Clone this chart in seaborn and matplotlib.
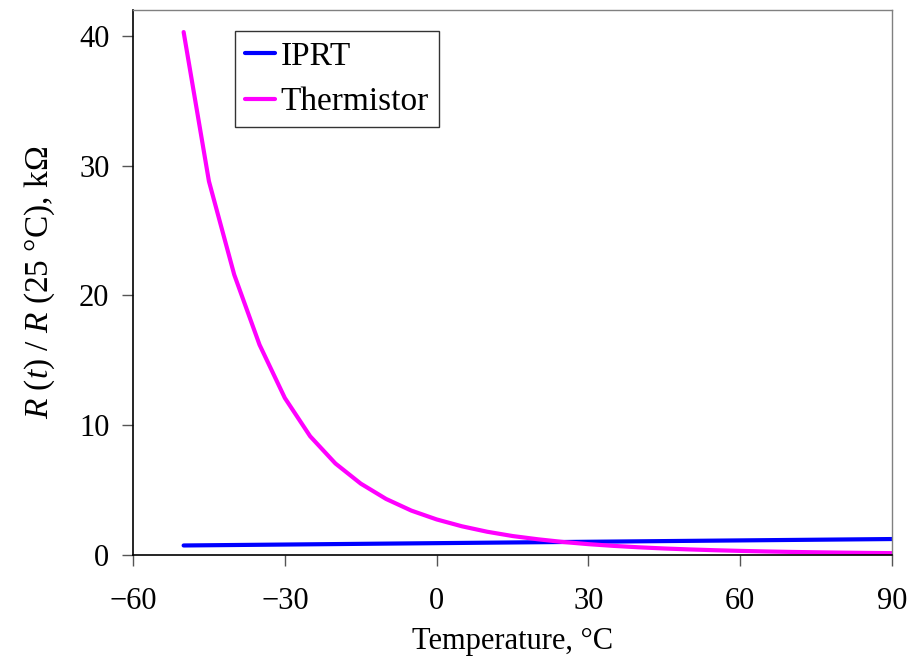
import matplotlib
matplotlib.use("Agg")
import matplotlib.pyplot as plt
import seaborn as sns
import pandas as pd

# IPRT (Pt100) resistance ratio, 10 degree steps
iprt_temp = [-50, -40, -30, -20, -10, 0, 10, 20, 30, 40, 50, 60, 70, 80, 90]
iprt_ratio = [0.732, 0.768, 0.804, 0.840, 0.876, 0.911, 0.947, 0.982,
              1.018, 1.053, 1.088, 1.123, 1.158, 1.193, 1.228]

# Thermistor resistance ratio, 5 degree steps
therm_temp = [-50, -45, -40, -35, -30, -25, -20, -15, -10, -5, 0, 5, 10, 15, 20,
              25, 30, 35, 40, 45, 50, 55, 60, 65, 70, 75, 80, 85, 90]
therm_ratio = [40.3, 28.8, 21.6, 16.2, 12.1, 9.15, 7.05, 5.5, 4.32, 3.42, 2.74,
               2.21, 1.79, 1.46, 1.21, 1.0, 0.834, 0.70, 0.59, 0.50, 0.427,
               0.366, 0.315, 0.272, 0.236, 0.206, 0.180, 0.158, 0.140]

df = pd.concat([
    pd.DataFrame({"Temperature": iprt_temp, "Ratio": iprt_ratio, "Sensor": "IPRT"}),
    pd.DataFrame({"Temperature": therm_temp, "Ratio": therm_ratio, "Sensor": "Thermistor"}),
])

sns.set_style("white")
plt.rcParams["font.family"] = ["Liberation Serif", "DejaVu Serif"]
plt.rcParams["mathtext.fontset"] = "custom"
plt.rcParams["mathtext.rm"] = "Liberation Serif"
plt.rcParams["mathtext.it"] = "Liberation Serif:italic"
plt.rcParams["text.color"] = "black"
plt.rcParams["axes.labelcolor"] = "black"
plt.rcParams["xtick.color"] = "black"
plt.rcParams["ytick.color"] = "black"

fig = plt.figure(figsize=(9.2, 6.61), dpi=100)
ax = fig.add_axes([0.1446, 0.1604, 0.825, 0.8245])

sns.lineplot(data=df, x="Temperature", y="Ratio", hue="Sensor",
             palette={"IPRT": "#0000FF", "Thermistor": "#FF00FF"},
             linewidth=3, ax=ax)

ax.set_xlim(-60, 90)
ax.set_ylim(0, 42)
ax.set_xticks([-60, -30, 0, 30, 60, 90])
ax.set_yticks([0, 10, 20, 30, 40])
ax.tick_params(axis="both", which="major", direction="out", length=8, width=1,
               labelsize=22, bottom=True, left=True, color="#555555")
ax.tick_params(axis="x", pad=15)
ax.tick_params(axis="y", pad=9)
ax.set_xlabel("Temperature, °C", fontsize=22, labelpad=8)
ax.set_ylabel(r"$\it{R}$ ($\it{t}$) / $\it{R}$ (25 °C), kΩ", fontsize=24, labelpad=16)

for side in ["left", "bottom"]:
    ax.spines[side].set_color("black")
    ax.spines[side].set_linewidth(1.2)
for side in ["top", "right"]:
    ax.spines[side].set_color("#808080")
    ax.spines[side].set_linewidth(1.0)

leg = ax.legend(loc="upper left", bbox_to_anchor=(0.134, 0.961), borderaxespad=0,
                fontsize=24, frameon=True, fancybox=False, handlelength=0.9,
                handletextpad=0.18, borderpad=0.3, labelspacing=0.45, title=None)
leg.get_frame().set_edgecolor("black")
leg.get_frame().set_linewidth(1.0)

fig.savefig("out.png", dpi=100)
